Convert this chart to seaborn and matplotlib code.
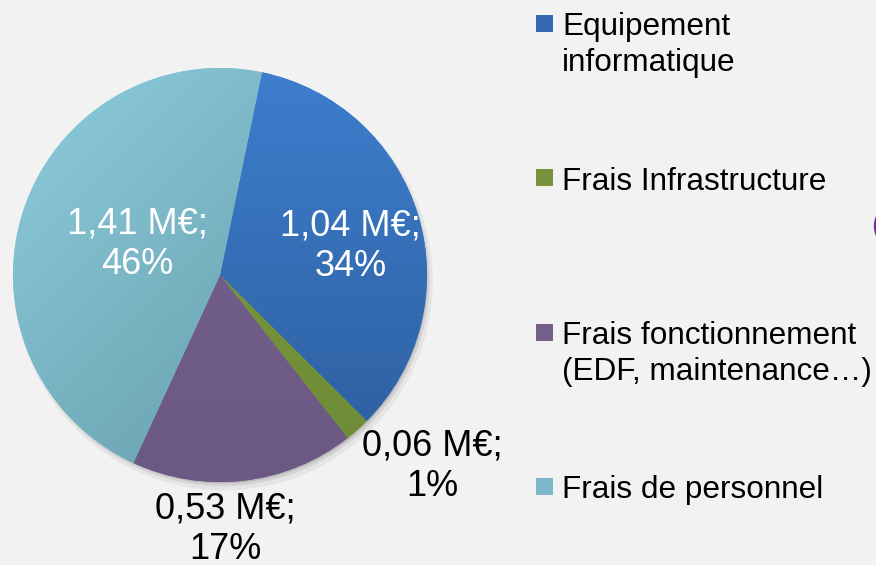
import numpy as np
import seaborn as sns
import matplotlib
matplotlib.use("Agg")
import matplotlib.pyplot as plt
from matplotlib.patches import Rectangle, Circle
from matplotlib.colors import LinearSegmentedColormap

# données
categories = ["Equipement\ninformatique", "Frais Infrastructure",
              "Frais fonctionnement\n(EDF, maintenance…)", "Frais de personnel"]
values = [1.04, 0.06, 0.53, 1.41]
pct_labels = ["34%", "1%", "17%", "46%"]

# couleurs (clair -> foncé pour le dégradé)
grad_colors = [("#3E7ECE", "#2C5D9C"), ("#7C9C3F", "#6E8B36"),
               ("#76628E", "#6B5883"), ("#8DCDDE", "#5E939F")]
legend_colors = ["#3569B2", "#77933C", "#735F8A", "#7CB8CA"]
label_colors = ["white", "black", "black", "white"]
# position des étiquettes (coord. du camembert, rayon = 1)
label_pos = [(0.63, 0.14), (1.024, -0.923), (0.024, -1.227), (-0.40, 0.15)]

sns.set_style("white", {"axes.facecolor": "#F2F2F2", "figure.facecolor": "#F2F2F2"})
plt.rcParams['font.family'] = ['Liberation Sans', 'DejaVu Sans']

W, H = 876, 565
fig = plt.figure(figsize=(W / 100, H / 100), dpi=100)
fig.patch.set_facecolor("#F2F2F2")

R, cx, cy, lim = 207, 220, 275, 1.08
ax = fig.add_axes([(cx - R * lim) / W, (H - cy - R * lim) / H, 2 * R * lim / W, 2 * R * lim / H])

# ombre légère
for off, a, r in [(0.03, 0.05, 1.01), (0.02, 0.08, 1.0), (0.012, 0.12, 0.995)]:
    ax.add_patch(Circle((off * 0.6, -off), r, color="black", alpha=a, lw=0, zorder=0))

wedges, _ = ax.pie(values, startangle=78.3, counterclock=False,
                   colors=[c[0] for c in grad_colors], radius=1,
                   wedgeprops=dict(linewidth=0), frame=False)

yy, xx = np.mgrid[-1:1:300j, -1:1:300j]
for i, w in enumerate(wedges):
    w.set_zorder(1)
    if i == 3:
        t = ((xx - yy) + 2) / 4
    else:
        t = (1 - yy) / 2
    cmap = LinearSegmentedColormap.from_list("g%d" % i, list(grad_colors[i]))
    im = ax.imshow(t, cmap=cmap, extent=(-1, 1, -1, 1), origin="lower",
                   vmin=0, vmax=1, zorder=1.5, interpolation="bilinear")
    im.set_clip_path(w)

for v, p, (lx, ly), col in zip(values, pct_labels, label_pos, label_colors):
    txt = f"{v:.2f}".replace(".", ",") + " M€;\n" + p
    ax.text(lx, ly, txt, color=col, fontsize=26, ha="center", va="center",
            linespacing=1.2, zorder=5)

ax.set_xlim(-lim, lim)
ax.set_ylim(-lim, lim)
ax.set_aspect("equal")
ax.axis("off")

# légende
sq_top0, step, sq = 15, 154.3, 17
for i, (cat, col) in enumerate(zip(categories, legend_colors)):
    top = sq_top0 + i * step
    fig.add_artist(Rectangle((536 / W, 1 - (top + sq) / H), sq / W, sq / H,
                             transform=fig.transFigure, facecolor=col, lw=0))
    base = top + sq / 2 + 12
    for j, line in enumerate(cat.split("\n")):
        fig.text(562 / W, 1 - (base + j * 36) / H, line, fontsize=22.7,
                 color="black", ha="left", va="baseline")

# caractère coupé au bord droit
fig.text(871 / W, 1 - 226 / H, "(", color="#7030A0", fontsize=22, ha="left", va="center")

plt.savefig("out.png", dpi=100, facecolor=fig.get_facecolor())
